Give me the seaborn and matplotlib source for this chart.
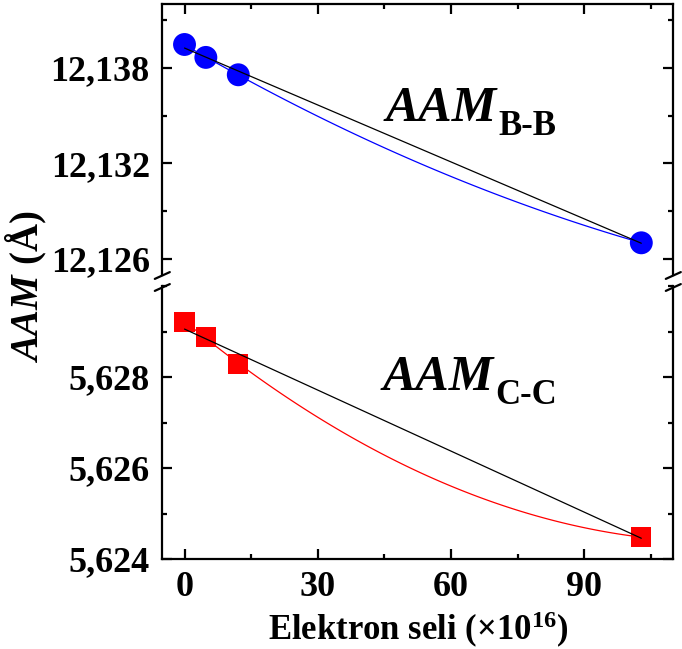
import numpy as np
import pandas as pd
import seaborn as sns
import matplotlib.pyplot as plt
from matplotlib.lines import Line2D
from matplotlib.ticker import MultipleLocator

# Electron fluence (x10^16) and lattice parameters
electron_flux = [0.0, 4.8, 12.1, 102.8]
aam_bb = [12.13946, 12.13865, 12.13756, 12.12702]
aam_cc = [5.62921, 5.62888, 5.62829, 5.62448]

x_ticks = [0, 30, 60, 90]
x_tick_labels = ["0", "30", "60", "90"]
bb_ticks = [12.126, 12.132, 12.138]
bb_tick_labels = ["12,126", "12,132", "12,138"]
cc_ticks = [5.624, 5.626, 5.628]
cc_tick_labels = ["5,624", "5,626", "5,628"]

sns.set_theme(style="ticks")
plt.rcParams["font.family"] = ["Liberation Serif", "DejaVu Serif"]
plt.rcParams["font.weight"] = "bold"
plt.rcParams["mathtext.fontset"] = "custom"
plt.rcParams["mathtext.it"] = "Liberation Serif:italic:bold"
plt.rcParams["mathtext.rm"] = "Liberation Serif:bold"
plt.rcParams["mathtext.bf"] = "Liberation Serif:bold"

W, H = 682, 649
fig = plt.figure(figsize=(W / 100, H / 100), dpi=100)


def fx(px):
    return px / W


def fy(py):
    return 1 - py / H


left_px, right_px = 162.3, 673.3
ax_top = fig.add_axes([fx(left_px), fy(275), fx(right_px - left_px), (275 - 4) / H])
ax_bot = fig.add_axes([fx(left_px), fy(559), fx(right_px - left_px), (559 - 286) / H])

df = pd.DataFrame({"flux": electron_flux, "bb": aam_bb, "cc": aam_cc})

# upper panel: B-B
sns.scatterplot(data=df, x="flux", y="bb", ax=ax_top, marker="o", s=272,
                color="#0000ff", edgecolor="none", zorder=1, legend=False)
sns.regplot(data=df, x="flux", y="bb", ax=ax_top, order=2, ci=None, scatter=False,
            color="#0000ff", line_kws=dict(lw=0.9, zorder=3))
sns.regplot(data=df, x="flux", y="bb", ax=ax_top, order=1, ci=None, scatter=False,
            color="black", line_kws=dict(lw=0.9, zorder=4))

# lower panel: C-C
sns.scatterplot(data=df, x="flux", y="cc", ax=ax_bot, marker="s", s=215,
                color="#ff0000", edgecolor="none", zorder=1, legend=False)
sns.regplot(data=df, x="flux", y="cc", ax=ax_bot, order=2, ci=None, scatter=False,
            color="#ff0000", line_kws=dict(lw=0.9, zorder=3))
sns.regplot(data=df, x="flux", y="cc", ax=ax_bot, order=1, ci=None, scatter=False,
            color="black", line_kws=dict(lw=0.9, zorder=4))

for ax in (ax_top, ax_bot):
    ax.set_xlim(-5, 110)
    ax.set_xlabel("")
    ax.set_ylabel("")
    for sp in ax.spines.values():
        sp.set_linewidth(1.6)
        sp.set_color("black")
    ax.xaxis.set_minor_locator(MultipleLocator(15))
    ax.tick_params(which="both", direction="in", width=1.6, color="black",
                   labelsize=26, labelcolor="black")
    ax.tick_params(which="major", length=7)
    ax.tick_params(which="minor", length=3.6)
    ax.tick_params(axis="y", which="both", left=True, right=True, pad=9)
    ax.set_xticks(x_ticks)

ax_top.set_ylim(12.125, 12.142)
ax_top.set_yticks(bb_ticks)
ax_top.set_yticklabels(bb_tick_labels)
ax_top.yaxis.set_minor_locator(MultipleLocator(0.003))
ax_top.spines["bottom"].set_visible(False)
ax_top.tick_params(axis="x", which="both", top=True, bottom=False,
                   labelbottom=False, labeltop=False)

ax_bot.set_ylim(5.624, 5.630)
ax_bot.set_yticks(cc_ticks)
ax_bot.set_yticklabels(cc_tick_labels)
ax_bot.yaxis.set_minor_locator(MultipleLocator(0.001))
ax_bot.spines["top"].set_visible(False)
ax_bot.set_xticklabels(x_tick_labels)
ax_bot.tick_params(axis="x", which="both", top=False, bottom=True, pad=9)

ax_bot.set_xlabel(r"Elektron seli ($\times$10$^{16}$)", fontsize=25,
                  fontweight="bold", labelpad=4, color="black")
fig.text(fx(26), fy(287), r"$\mathit{AAM}$ (Å)", rotation=90, fontsize=28,
         fontweight="bold", ha="center", va="center", color="black")

# panel labels with subscripts
t1 = ax_top.text(45.3, 12.13463, "AAM", fontsize=36, style="italic",
                 fontweight="bold", va="baseline", ha="left", color="black")
ax_top.annotate("B-B", xy=(1, 0), xycoords=t1, xytext=(1, -2),
                textcoords="offset points", fontsize=25, fontweight="bold",
                va="baseline", ha="left", color="black")
t2 = ax_bot.text(44.6, 5.62771, "AAM", fontsize=36, style="italic",
                 fontweight="bold", va="baseline", ha="left", color="black")
ax_bot.annotate("C-C", xy=(1, 0), xycoords=t2, xytext=(1, -2),
                textcoords="offset points", fontsize=25, fontweight="bold",
                va="baseline", ha="left", color="black")

# axis break marks
for cx in (left_px, right_px):
    for cy in (275.5, 287.5):
        fig.add_artist(Line2D([fx(cx - 7.5), fx(cx + 7.5)], [fy(cy + 3.4), fy(cy - 3.4)],
                              color="black", lw=1.6, transform=fig.transFigure))

fig.savefig("out.png", dpi=100, facecolor="white")
